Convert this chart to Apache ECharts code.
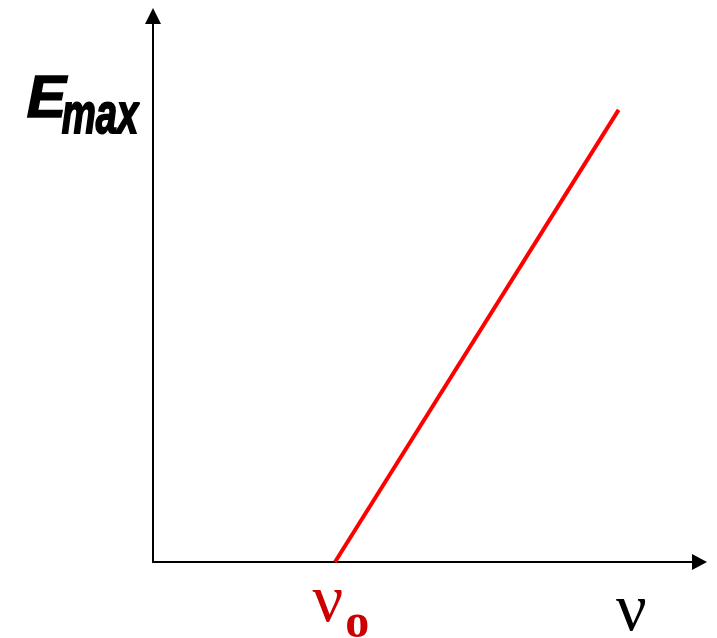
<!DOCTYPE html>
<html>
<head>
<meta charset="utf-8">
<script src="https://cdn.jsdelivr.net/npm/echarts@6/dist/echarts.min.js"></script>
<style>
  html, body { margin: 0; padding: 0; background: #fff; }
  #chart { width: 717px; height: 638px; }
</style>
</head>
<body>
<div id="chart"></div>
<script>
// axis ranges (arbitrary units)
var xRange = [0, 100];
var yRange = [0, 100];
// threshold frequency and the E_max line
var nu0 = 33.3;
var lineX = [33.3, 85.2];
var lineY = [0, 82.8];

var chart = echarts.init(document.getElementById('chart'));

var pts = [];
for (var i = 0; i < lineX.length; i++) {
    pts.push([lineX[i], lineY[i]]);
}

var option = {
    animation: false,
    grid: { left: 153, right: 17.5, top: 16, bottom: 76 },
    xAxis: {
        type: 'value', min: xRange[0], max: xRange[1],
        axisLine: {
            onZero: false,
            symbol: ['none', 'triangle'], symbolSize: [16, 15],
            lineStyle: { color: '#000', width: 2 }
        },
        axisTick: { show: false }, axisLabel: { show: false }, splitLine: { show: false }
    },
    yAxis: {
        type: 'value', min: yRange[0], max: yRange[1],
        axisLine: {
            show: true, onZero: false,
            symbol: ['none', 'triangle'], symbolSize: [16, 16],
            lineStyle: { color: '#000', width: 2 }
        },
        axisTick: { show: false }, axisLabel: { show: false }, splitLine: { show: false }
    },
    series: [{
        type: 'line',
        data: pts,
        showSymbol: false,
        lineStyle: { color: '#ff0000', width: 4 },
        markPoint: {
            symbol: 'circle', symbolSize: 0,
            data: [{ coord: [nu0, 0] }],
            label: {
                show: true, position: 'bottom', distance: 7, offset: [6, 0],
                formatter: '{a|ν}{b|o}',
                rich: {
                    a: { fontFamily: 'Liberation Serif', fontSize: 68, color: '#cc0000', verticalAlign: 'bottom' },
                    b: { fontFamily: 'Liberation Serif', fontWeight: 'bold', fontSize: 48, color: '#cc0000', verticalAlign: 'bottom', padding: [0, 0, -12, 2] }
                }
            }
        }
    }],
    graphic: [
        { type: 'text', left: 26, top: 70, style: { text: 'E', font: 'italic bold 59px "Liberation Sans"', fill: '#000', stroke: '#000', lineWidth: 1.5 } },
        { type: 'text', left: 61, top: 87, scaleX: 0.66, style: { text: 'max', font: 'italic bold 58px "Liberation Sans"', fill: '#000', stroke: '#000', lineWidth: 2 } },
        { type: 'text', left: 616, top: 578, style: { text: 'ν', font: '68px "Liberation Serif"', fill: '#000' } }
    ]
};
chart.setOption(option);
</script>
</body>
</html>
